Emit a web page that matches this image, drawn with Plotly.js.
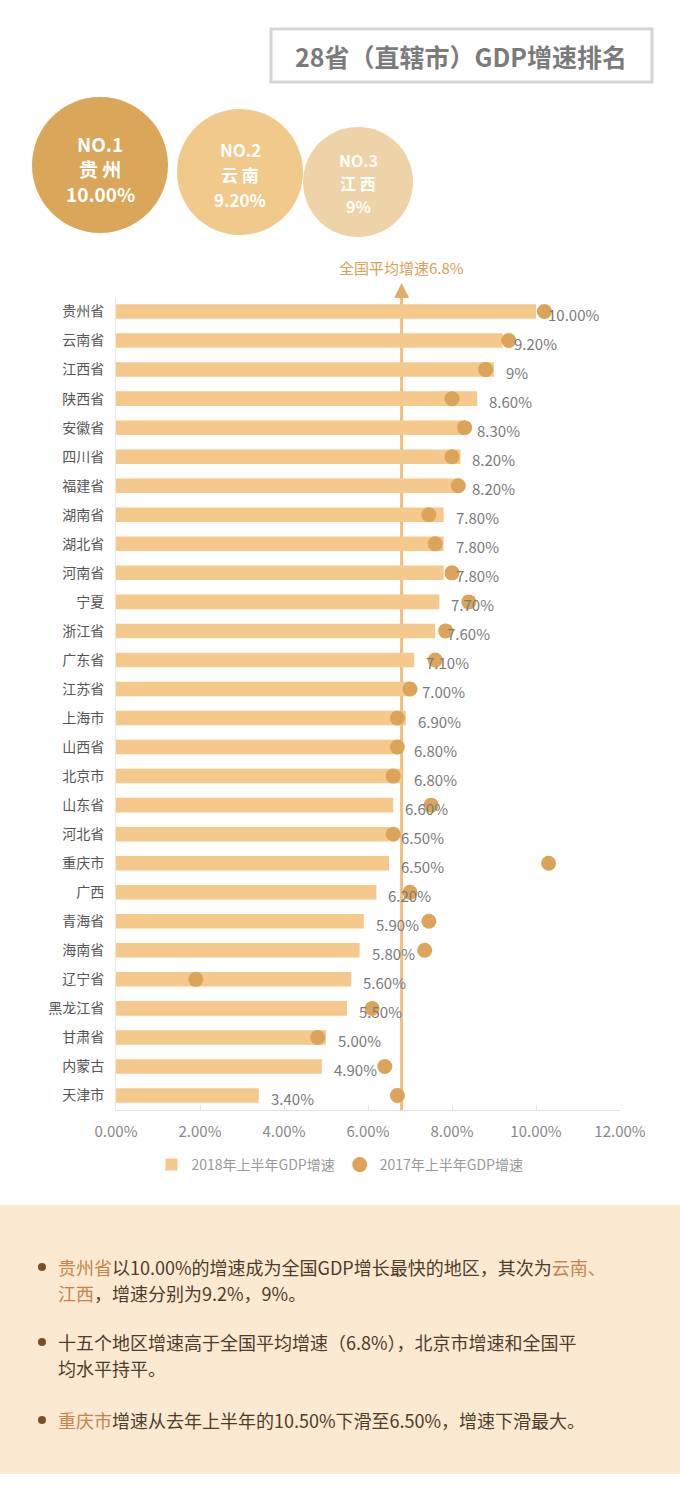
<!DOCTYPE html>
<html>
<head>
<meta charset="utf-8">
<script src="https://cdn.plot.ly/plotly-3.0.1.min.js"></script>
<style>
html,body{margin:0;padding:0;background:#fff;}
#chart{width:680px;height:1498px;}
</style>
</head>
<body>
<div id="chart"></div>
<script>
// ---- data ----
const categories = ['贵州省','云南省','江西省','陕西省','安徽省','四川省','福建省','湖南省','湖北省','河南省','宁夏','浙江省','广东省','江苏省','上海市','山西省','北京市','山东省','河北省','重庆市','广西','青海省','海南省','辽宁省','黑龙江省','甘肃省','内蒙古','天津市'];
const growth2018 = [10.0,9.2,9.0,8.6,8.3,8.2,8.2,7.8,7.8,7.8,7.7,7.6,7.1,7.0,6.9,6.8,6.8,6.6,6.5,6.5,6.2,5.9,5.8,5.6,5.5,5.0,4.9,3.4];
const labels2018 = ['10.00%','9.20%','9%','8.60%','8.30%','8.20%','8.20%','7.80%','7.80%','7.80%','7.70%','7.60%','7.10%','7.00%','6.90%','6.80%','6.80%','6.60%','6.50%','6.50%','6.20%','5.90%','5.80%','5.60%','5.50%','5.00%','4.90%','3.40%'];
const growth2017 = [10.2,9.35,8.8,8.0,8.3,8.0,8.15,7.45,7.6,8.0,8.4,7.85,7.6,7.0,6.7,6.7,6.6,7.5,6.6,10.3,7.0,7.45,7.35,1.9,6.1,4.8,6.4,6.7];
const xTicks = [0,2,4,6,8,10,12];
const nationalAvg = 6.8;
const seriesNames = ['2018年上半年GDP增速','2017年上半年GDP增速'];
const top3 = [
  {rank:'NO.1', name:'贵 州', val:'10.00%'},
  {rank:'NO.2', name:'云 南', val:'9.20%'},
  {rank:'NO.3', name:'江 西', val:'9%'}
];
const titleText = '28省（直辖市）GDP增速排名';

// ---- page helpers ----
const W = 680, H = 1498;
const px = X => X / W;
const py = Y => 1 - Y / H;
const FONT = '"Noto Sans CJK SC", "Noto Sans", sans-serif';

const barColor = '#f5c98c';
const dotColor = '#dca459';

const traces = [
  {
    type:'bar', orientation:'h', name: seriesNames[0],
    y: categories, x: growth2018,
    marker:{color: barColor}, hoverinfo:'skip'
  },
  {
    type:'scatter', mode:'markers', name: seriesNames[1],
    y: categories, x: growth2017,
    marker:{color: dotColor, size:15}, hoverinfo:'skip'
  }
];

const shapes = [];
const annotations = [];

// title box
shapes.push({type:'rect', xref:'paper', yref:'paper', x0:px(271), x1:px(652), y0:py(29), y1:py(82),
  line:{color:'#d5d5d5', width:3}, fillcolor:'#ffffff', layer:'above'});
annotations.push({xref:'paper', yref:'paper', x:px(461), y:py(56), text:'<b>'+titleText+'</b>', showarrow:false,
  font:{family:FONT, size:25, color:'#7b7b7b'}, xanchor:'center', yanchor:'middle'});

// top-3 circles
const circles = [
  {cx:100, cy:165, r:68, color:'#d9a65a', fs:19, ys:[143,168,193]},
  {cx:240, cy:172, r:63, color:'#f1c98b', fs:17, ys:[150,175,199]},
  {cx:358, cy:182, r:55, color:'#eed3a8', fs:16, ys:[160,183,206]}
];
circles.forEach((c,i) => {
  shapes.push({type:'circle', xref:'paper', yref:'paper', x0:px(c.cx-c.r), x1:px(c.cx+c.r), y0:py(c.cy-c.r), y1:py(c.cy+c.r),
    fillcolor:c.color, line:{width:0}, layer:'above'});
  [top3[i].rank, top3[i].name, top3[i].val].forEach((t,k) => {
    annotations.push({xref:'paper', yref:'paper', x:px(c.cx), y:py(c.ys[k]), text:'<b>'+t+'</b>', showarrow:false,
      font:{family:FONT, size:c.fs, color:'#ffffff'}, xanchor:'center', yanchor:'middle'});
  });
});

// national average line + arrow + label
shapes.push({type:'line', xref:'x', yref:'paper', x0:nationalAvg, x1:nationalAvg, y0:py(1110), y1:py(296),
  line:{color:'#eebf7e', width:3}, layer:'below'});
annotations.push({xref:'x', yref:'paper', x:nationalAvg, y:py(283), ax:0, ay:16, text:'', showarrow:true,
  arrowhead:2, arrowsize:1, arrowwidth:3, arrowcolor:'#e2ae66'});
annotations.push({xref:'x', yref:'paper', x:nationalAvg, y:py(267), text:'全国平均增速'+nationalAvg+'%', showarrow:false,
  font:{family:FONT, size:15, color:'#d9a257'}, xanchor:'center', yanchor:'middle'});

// value labels for 2018 bars
categories.forEach((c,i) => {
  annotations.push({xref:'x', yref:'y', x:growth2018[i], y:c, text:labels2018[i], showarrow:false,
    xanchor:'left', yanchor:'middle', xshift:10, yshift:-3,
    font:{family:FONT, size:15, color:'#7a7a7a'}});
});

// bottom panel
shapes.push({type:'rect', xref:'paper', yref:'paper', x0:0, x1:1, y0:py(1474), y1:py(1205),
  fillcolor:'#fbe9d1', line:{width:0}, layer:'below'});
[1267,1342,1420].forEach(Y => {
  shapes.push({type:'circle', xref:'paper', yref:'paper', x0:px(38), x1:px(46), y0:py(Y+4), y1:py(Y-4),
    fillcolor:'#7a4e25', line:{width:0}, layer:'above'});
});
const hi = t => '<span style="color:#c4854c">'+t+'</span>';
const bodyLines = [
  {y:1267, t: hi('贵州省')+'以10.00%的增速成为全国GDP增长最快的地区，其次为'+hi('云南、')},
  {y:1293, t: hi('江西')+'，增速分别为9.2%，9%。'},
  {y:1342, t: '十五个地区增速高于全国平均增速（6.8%），北京市增速和全国平'},
  {y:1368, t: '均水平持平。'},
  {y:1420, t: hi('重庆市')+'增速从去年上半年的10.50%下滑至6.50%，增速下滑最大。'}
];
bodyLines.forEach(l => {
  annotations.push({xref:'paper', yref:'paper', x:px(56), y:py(l.y), text:l.t, showarrow:false,
    xanchor:'left', yanchor:'middle', align:'left', font:{family:FONT, size:18, color:'#4d3c2c'}});
});

const layout = {
  width:W, height:H,
  margin:{l:0, r:0, t:0, b:0},
  paper_bgcolor:'#ffffff', plot_bgcolor:'rgba(0,0,0,0)',
  font:{family:FONT},
  showlegend:true,
  legend:{orientation:'h', x:0.5, xanchor:'center', y:py(1165), yanchor:'middle',
    font:{family:FONT, size:14, color:'#999999'}, itemwidth:30, bgcolor:'rgba(0,0,0,0)'},
  bargap:0.5,
  xaxis:{domain:[px(116), px(620)], range:[0,12], tickvals:xTicks, ticktext:xTicks.map(v => v.toFixed(2)+'%'),
    showgrid:false, zeroline:false, showline:true, linecolor:'#dfe2ea', linewidth:1,
    ticks:'inside', ticklen:5, tickcolor:'#dfe2ea', ticklabelstandoff:8,
    tickfont:{family:FONT, size:15, color:'#888888'}, fixedrange:true},
  yaxis:{domain:[py(1110), py(297)], type:'category', range:[categories.length-0.5, -0.5],
    showgrid:false, zeroline:false, showline:true, linecolor:'#e3e7ee', linewidth:1, ticks:'',
    ticklabelstandoff:8, tickfont:{family:FONT, size:14, color:'#555555'}, fixedrange:true},
  shapes: shapes,
  annotations: annotations
};

Plotly.newPlot('chart', traces, layout, {displayModeBar:false, staticPlot:true});
</script>
</body>
</html>
